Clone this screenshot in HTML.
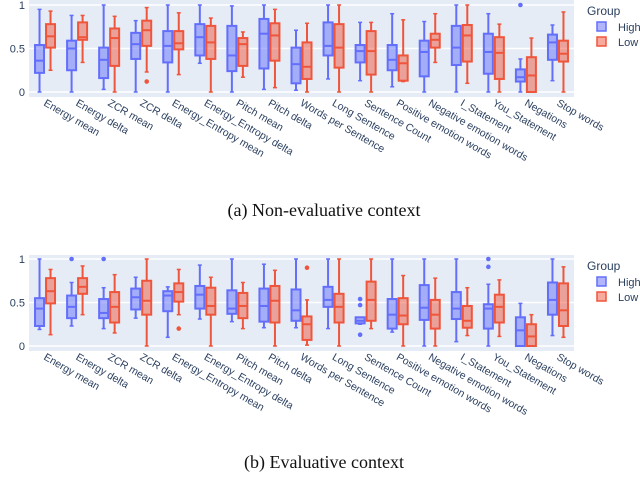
<!DOCTYPE html>
<html><head><meta charset="utf-8"><style>
body{margin:0;background:#fff;width:640px;height:503px;overflow:hidden}
svg{display:block}
</style></head><body>
<svg id="chart" width="640" height="503" xmlns="http://www.w3.org/2000/svg"></svg>
<script>
const categories=["Energy mean","Energy delta","ZCR mean","ZCR delta","Energy_Entropy mean","Energy_Entropy delta","Pitch mean","Pitch delta","Words per Sentence","Long Sentence","Sentence Count","Positive emotion words","Negative emotion words","I_Statement","You_Statement","Negations","Stop words"];
const yTicks=[0,0.5,1];
const yTickLabels=["0","0.5","1"];
// [min,q1,median,q3,max]
const aHigh=[[0,.22,.36,.54,.95],[0,.25,.50,.59,.88],[.03,.16,.37,.51,1],[0,.38,.55,.68,.82],[0,.34,.53,.70,1],[.33,.42,.63,.78,1],[0,.24,.42,.76,.99],[.03,.27,.67,.84,1],[.02,.10,.32,.51,.71],[.15,.42,.53,.80,1],[.13,.34,.47,.54,.80],[.06,.25,.37,.54,.90],[0,.18,.46,.59,.81],[0,.31,.51,.76,1],[0,.21,.46,.67,.90],[0,.12,.17,.26,.38],[.13,.37,.57,.66,.77]];
const aLow=[[.25,.51,.64,.78,.93],[.34,.60,.63,.80,.88],[0,.30,.62,.73,.87],[.23,.53,.71,.82,.97],[.20,.49,.56,.70,.91],[0,.38,.57,.76,.85],[.17,.30,.55,.62,.69],[.05,.36,.65,.79,.95],[0,.15,.29,.57,.79],[0,.28,.51,.78,1],[0,.20,.47,.70,.80],[.12,.13,.33,.42,.83],[.34,.51,.60,.67,.90],[.10,.35,.65,.77,1],[0,.15,.45,.63,.78],[0,0,.19,.40,.62],[0,.35,.44,.59,.92]];
const aHighOut=[[],[],[],[],[],[],[],[],[],[],[],[],[],[],[],[1.0],[]];
const aLowOut=[[],[],[],[.12],[],[],[],[],[],[],[],[],[],[],[],[],[]];
const bHigh=[[.19,.23,.43,.55,1],[.23,.32,.45,.58,.73],[.20,.32,.38,.54,.67],[.32,.42,.56,.66,.79],[.10,.40,.58,.63,.68],[.31,.43,.59,.69,.93],[.28,.37,.43,.64,1],[.21,.28,.46,.66,.94],[.21,.29,.41,.65,1],[.20,.45,.53,.68,1],[.25,.26,.29,.33,.33],[.16,.20,.36,.54,1],[0,.30,.44,.70,1],[.05,.31,.43,.62,1],[0,.20,.43,.48,.71],[0,0,.18,.33,.49],[.12,.36,.53,.73,1]];
const bLow=[[.13,.49,.63,.78,.88],[.36,.60,.68,.78,.92],[.15,.27,.45,.62,.82],[0,.36,.52,.75,1],[.36,.51,.62,.72,.88],[0,.36,.46,.67,.79],[.20,.32,.46,.61,.73],[0,.27,.52,.69,.87],[.01,.07,.25,.34,.53],[0,.27,.45,.60,1],[.20,.29,.53,.74,1],[0,.25,.35,.55,.81],[0,.20,.36,.53,.78],[.12,.21,.29,.46,.67],[.11,.27,.45,.59,.76],[0,0,.11,.25,.36],[.10,.23,.41,.72,.91]];
const bHighOut=[[],[1.0],[1.0],[],[],[],[],[],[],[],[.54,.47,.13],[],[],[],[1.0,.91],[],[]];
const bLowOut=[[],[],[],[],[.20],[],[],[],[.90],[],[],[],[],[],[],[],[]];

const svg=document.getElementById('chart');
const NS='http://www.w3.org/2000/svg';
function mk(tag,attrs,parent){const e=document.createElementNS(NS,tag);for(const k in attrs)e.setAttribute(k,attrs[k]);(parent||svg).appendChild(e);return e;}
const BLUE='#636efa',RED='#ef553b';
const X0=29,X1=574,STEP=(X1-X0)/categories.length;
function xc(i){return X0+STEP*(i+0.5);}

function panel(name,top,y0,y1,high,low,highOut,lowOut,caption,capY){
  const g=mk('g',{});
  
  
  const ys=v=>y0+(y1-y0)*v;
  const bg=mk('rect',{x:X0,y:top,width:X1-X0,height:(y0+5)-top,fill:'#e5ecf6'},g);
  
  
  yTicks.forEach((t,k)=>{
    const gl=mk('line',{x1:X0,x2:X1,y1:ys(t),y2:ys(t),stroke:'#fff','stroke-width':1.5},g);
    
    
    const tl=mk('text',{x:X0-4,y:ys(t)+4,'text-anchor':'end','font-size':11,fill:'#2a3f5f','font-family':'Liberation Sans, sans-serif'},g);
    tl.textContent=yTickLabels[k];
    
    
  });
  function box(d,cx,col,fill,outs,nm){
    const bg2=mk('g',{},g);
    
    
    const hw=4.5;
    mk('line',{x1:cx,x2:cx,y1:ys(d[0]),y2:ys(d[1]),stroke:col,'stroke-width':2},bg2);
    mk('line',{x1:cx,x2:cx,y1:ys(d[3]),y2:ys(d[4]),stroke:col,'stroke-width':2},bg2);
    mk('line',{x1:cx-2,x2:cx+2,y1:ys(d[0]),y2:ys(d[0]),stroke:col,'stroke-width':1.5},bg2);
    mk('line',{x1:cx-2,x2:cx+2,y1:ys(d[4]),y2:ys(d[4]),stroke:col,'stroke-width':1.5},bg2);
    mk('rect',{x:cx-hw,y:ys(d[3]),width:hw*2,height:Math.max(0.5,ys(d[1])-ys(d[3])),fill:fill,stroke:col,'stroke-width':2},bg2);
    mk('line',{x1:cx-hw,x2:cx+hw,y1:ys(d[2]),y2:ys(d[2]),stroke:col,'stroke-width':2},bg2);
    outs.forEach(o=>{
      const c=mk('circle',{cx:cx,cy:ys(o),r:2.3,fill:col},bg2);
      
      
    });
  }
  categories.forEach((c,i)=>{
    box(high[i],xc(i)-5.5,BLUE,'rgba(99,110,250,0.5)',highOut[i],'box-high');
    box(low[i],xc(i)+5.5,RED,'rgba(239,85,59,0.5)',lowOut[i],'box-low');
    const lx=xc(i)-2,ly=y0+13;
    const t=mk('text',{x:lx,y:ly,transform:`rotate(30 ${lx} ${ly})`,'font-size':10.5,fill:'#2a3f5f','font-family':'Liberation Sans, sans-serif'},g);
    t.textContent=c;
    
    
  });
  // legend
  const lg=mk('g',{},g);
  
  
  const lt=mk('text',{x:587,y:top+15,'font-size':12,fill:'#2a3f5f','font-family':'Liberation Sans, sans-serif'},lg);
  lt.textContent='Group';
  [['High',BLUE,'rgba(99,110,250,0.5)'],['Low',RED,'rgba(239,85,59,0.5)']].forEach((e,k)=>{
    const eg=mk('g',{},lg);
    
    
    const yy=top+22+k*15;
    mk('rect',{x:597,y:yy,width:9,height:9,fill:e[2],stroke:e[1],'stroke-width':1.5},eg);
    const tx=mk('text',{x:618,y:yy+9,'font-size':11,fill:'#2a3f5f','font-family':'Liberation Sans, sans-serif'},eg);
    tx.textContent=e[0];
  });
  const cap=mk('text',{x:324,y:capY,'text-anchor':'middle','font-size':18,fill:'#111','font-family':'Liberation Serif, serif'});
  cap.textContent=caption;
  
  
}
panel('chart-non-evaluative',0,92,5,aHigh,aLow,aHighOut,aLowOut,'(a)  Non-evaluative context',216);
panel('chart-evaluative',255,346,259,bHigh,bLow,bHighOut,bLowOut,'(b)  Evaluative context',468);
</script>
</body></html>
